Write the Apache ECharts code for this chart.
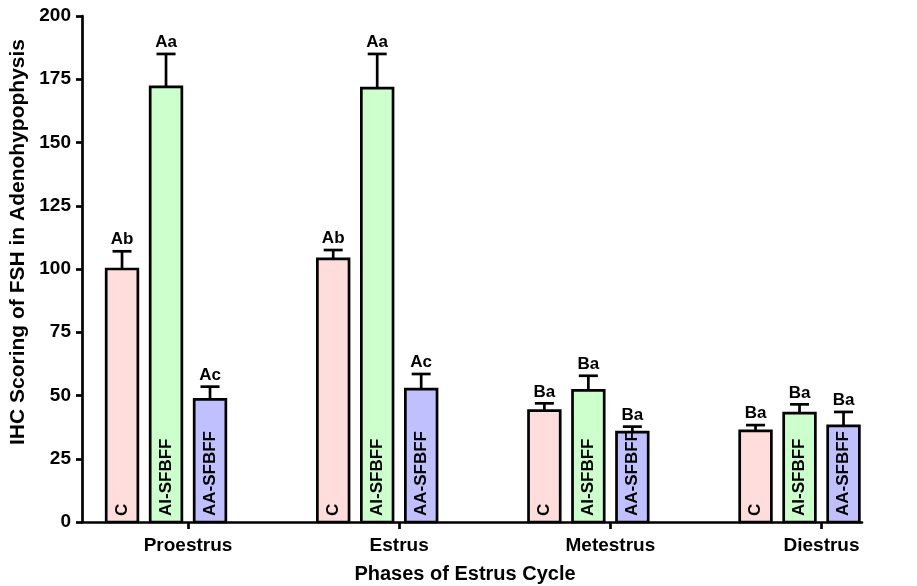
<!DOCTYPE html>
<html>
<head>
<meta charset="utf-8">
<title>IHC Scoring of FSH in Adenohypophysis</title>
<script src="https://cdn.jsdelivr.net/npm/echarts@6/dist/echarts.min.js"></script>
<style>
  html, body { margin: 0; padding: 0; background: #ffffff; }
  #chart { width: 917px; height: 586px; }
</style>
</head>
<body>
<div id="chart"></div>
<script>
// Phases of the estrus cycle (x groups) and treatment groups (bars in each phase)
const phases = ['Proestrus', 'Estrus', 'Metestrus', 'Diestrus'];
const treatments = ['C', 'AI-SFBFF', 'AA-SFBFF'];

// Mean IHC scores and their error (SEM) per treatment, one value per phase
const meanC  = [100, 104, 44, 36];
const semC   = [7, 3.5, 2.9, 2.3];
const meanAI = [172, 171.5, 52, 43];
const semAI  = [13, 13.5, 5.8, 3.5];
const meanAA = [48.5, 52.5, 35.5, 38];
const semAA  = [5, 6, 2.2, 5.5];

// Significance letters drawn above each error bar
const lettersC  = ['Ab', 'Ab', 'Ba', 'Ba'];
const lettersAI = ['Aa', 'Aa', 'Ba', 'Ba'];
const lettersAA = ['Ac', 'Ac', 'Ba', 'Ba'];

// y-axis range and step
const yMin = 0, yMax = 200, yStep = 25;

const FONT = '"Liberation Sans", Arial, Helvetica, sans-serif';
const fills = ['#FFDDDD', '#CCFFCC', '#C0C0FF'];
const LINE_W = 2.7;

// x layout in bar slots: one slot per bar, groups separated by a wider gap
const GROUP_PITCH = 4.8;
const FIRST_BAR = 0.91;
const BAR_W = 0.72;
const X_MAX = 17.73;
const slot = (p, t) => p * GROUP_PITCH + FIRST_BAR + t;
const phaseTick = p => p * GROUP_PITCH + FIRST_BAR + 1.5;

const means = [meanC, meanAI, meanAA];
const sems = [semC, semAI, semAA];
const letters = [lettersC, lettersAI, lettersAA];

const barData = [];
const errData = [];
const barInfo = [];
for (let t = 0; t < treatments.length; t++) {
  for (let p = 0; p < phases.length; p++) {
    barData.push([slot(p, t), means[t][p]]);
    errData.push([slot(p, t), means[t][p], sems[t][p]]);
    barInfo.push({ t: t, p: p });
  }
}

const tickValues = phases.map((_, p) => phaseTick(p));

const chart = echarts.init(document.getElementById('chart'), null, { renderer: 'canvas' });

chart.setOption({
  backgroundColor: '#ffffff',
  animation: false,
  grid: { left: 82, right: 55, top: 16, bottom: 64, containLabel: false, outerBoundsMode: 'none' },
  xAxis: {
    type: 'value',
    min: 0,
    max: X_MAX,
    splitLine: { show: false },
    axisLine: { show: true, onZero: false, lineStyle: { color: '#000', width: LINE_W } },
    axisTick: { show: true, length: 7, lineStyle: { color: '#000', width: LINE_W }, customValues: tickValues },
    axisLabel: {
      show: true,
      customValues: tickValues,
      margin: 14,
      color: '#000',
      fontFamily: FONT,
      fontWeight: 'bold',
      fontSize: 19,
      formatter: function (v) {
        const i = tickValues.findIndex(tv => Math.abs(tv - v) < 1e-6);
        return i >= 0 ? phases[i] : '';
      }
    },
    name: 'Phases of Estrus Cycle',
    nameLocation: 'middle',
    nameGap: 42,
    nameTextStyle: { color: '#000', fontFamily: FONT, fontWeight: 'bold', fontSize: 20, padding: [0, 14, 0, 0] }
  },
  yAxis: {
    type: 'value',
    min: yMin,
    max: yMax,
    interval: yStep,
    splitLine: { show: false },
    axisLine: { show: true, lineStyle: { color: '#000', width: LINE_W } },
    axisTick: { show: true, length: 6, lineStyle: { color: '#000', width: LINE_W } },
    axisLabel: { margin: 11, color: '#000', fontFamily: FONT, fontWeight: 'bold', fontSize: 19 },
    name: 'IHC Scoring of FSH in Adenohypophysis',
    nameLocation: 'middle',
    nameGap: 50,
    nameTextStyle: { color: '#000', fontFamily: FONT, fontWeight: 'bold', fontSize: 21, padding: [0, 0, 0, 54] }
  },
  series: [
    {
      name: 'bars',
      type: 'custom',
      data: barData,
      encode: { x: 0, y: 1 },
      z: 2,
      renderItem: function (params, api) {
        const info = barInfo[params.dataIndex];
        const x = api.value(0), y = api.value(1);
        const top = api.coord([x, y]);
        const base = api.coord([x, 0]);
        const w = api.size([BAR_W, 0])[0];
        return {
          type: 'group',
          children: [
            {
              type: 'rect',
              shape: { x: top[0] - w / 2, y: top[1], width: w, height: base[1] - top[1] },
              style: { fill: fills[info.t], stroke: '#000', lineWidth: LINE_W }
            },
            {
              type: 'text',
              x: top[0],
              y: base[1] - 6,
              rotation: Math.PI / 2,
              style: {
                text: treatments[info.t],
                fill: '#000',
                font: 'bold 17px ' + FONT,
                align: 'left',
                verticalAlign: 'middle'
              }
            }
          ]
        };
      }
    },
    {
      name: 'errors',
      type: 'custom',
      data: errData,
      encode: { x: 0, y: 1 },
      z: 3,
      renderItem: function (params, api) {
        const info = barInfo[params.dataIndex];
        const x = api.value(0), m = api.value(1), e = api.value(2);
        const top = api.coord([x, m]);
        const hi = api.coord([x, m + e]);
        const cap = 9.5;
        return {
          type: 'group',
          children: [
            {
              type: 'line',
              shape: { x1: top[0], y1: top[1], x2: hi[0], y2: hi[1] },
              style: { stroke: '#000', lineWidth: LINE_W }
            },
            {
              type: 'line',
              shape: { x1: hi[0] - cap, y1: hi[1], x2: hi[0] + cap, y2: hi[1] },
              style: { stroke: '#000', lineWidth: LINE_W }
            },
            {
              type: 'text',
              x: hi[0],
              y: hi[1] - 3,
              style: {
                text: letters[info.t][info.p],
                fill: '#000',
                font: 'bold 17px ' + FONT,
                align: 'center',
                verticalAlign: 'bottom'
              }
            }
          ]
        };
      }
    }
  ]
});
</script>
</body>
</html>
